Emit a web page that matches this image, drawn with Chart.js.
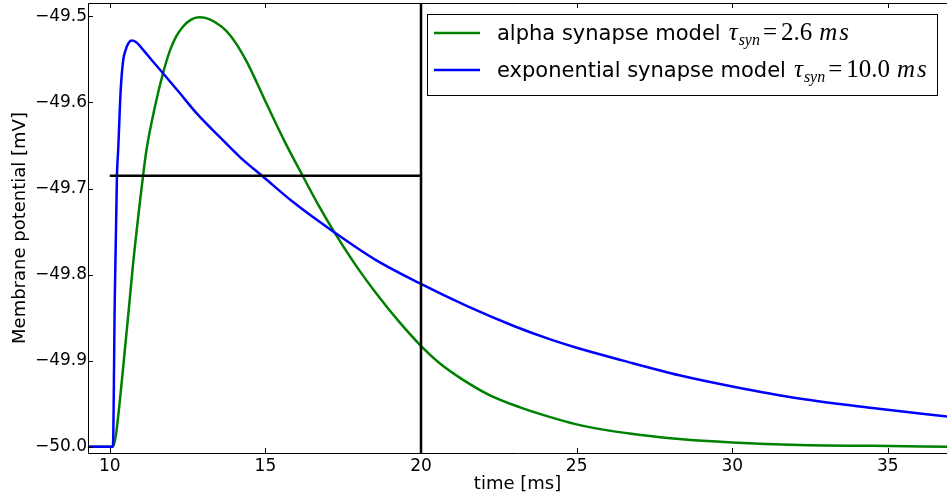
<!DOCTYPE html>
<html lang="en">
  <head>
    <meta charset="UTF-8" />
    <meta name="viewport" content="width=device-width, initial-scale=1.0" />
    <script src="https://cdn.jsdelivr.net/npm/chart.js@4.4.0/dist/chart.umd.min.js"></script>
    <title>Alpha vs exponential synapse</title>
    <style>
      body {
        margin: 0;
        padding: 0;
        background: #fff;
      }

      .container {
        width: 947px;
        height: 501px;
      }
    </style>
  </head>
  <body>
    <div class="container">
      <canvas id="psp" width="947" height="501"></canvas>
    </div>
    <script>
      // values
      const alphaT = [9.3, 10.1, 10.19, 10.38, 10.64, 10.75, 11.07, 11.18, 11.45, 11.71, 11.95, 12.14, 12.35, 12.6, 12.87, 13.1, 13.4, 13.75, 14.05, 14.39, 14.7, 15.03, 15.6, 16.21, 16.7, 17.22, 17.9, 18.67, 19.3, 19.95, 20.6, 21.34, 22.2, 23.16, 24.1, 25.0, 26.0, 27.0, 28.3, 30.0, 32.15, 34.5, 36.9]
      const alphaV = [-50.0, -50.0, -49.988, -49.926, -49.829, -49.787, -49.685, -49.655, -49.605, -49.566, -49.538, -49.523, -49.512, -49.504, -49.501, -49.502, -49.507, -49.517, -49.531, -49.552, -49.575, -49.601, -49.644, -49.686, -49.719, -49.751, -49.789, -49.827, -49.855, -49.881, -49.903, -49.922, -49.94, -49.954, -49.965, -49.974, -49.981, -49.986, -49.991, -49.995, -49.998, -49.999, -50.0]
      const expT = [9.3, 10.1, 10.16, 10.23, 10.27, 10.35, 10.43, 10.51, 10.6, 10.7, 10.85, 11.1, 11.4, 11.71, 12.2, 12.8, 13.53, 14.2, 14.92, 15.9, 17.22, 18.5, 19.95, 21.5, 23.0, 24.13, 25.0, 26.5, 28.3, 30.0, 32.15, 34.5, 36.9]
      const expV = [-50.0, -50.0, -49.829, -49.685, -49.655, -49.586, -49.551, -49.539, -49.531, -49.528, -49.53, -49.54, -49.553, -49.566, -49.587, -49.613, -49.64, -49.664, -49.686, -49.716, -49.751, -49.782, -49.81, -49.837, -49.86, -49.875, -49.885, -49.9, -49.917, -49.93, -49.944, -49.955, -49.965]
      const barT = [10, 20]
      const barV = -49.685
      const cursorT = 20

      const xLimits = [9.3, 36.9]
      const yLimits = [-50.0073, -49.4844]
      const xTicks = [10, 15, 20, 25, 30, 35]
      const yTicks = [-49.5, -49.6, -49.7, -49.8, -49.9, -50.0]

      const seriesNames = ['alpha synapse model', 'exponential synapse model']
      const tauValues = ['2.6', '10.0']
      const seriesColors = ['#008000', '#0000ff']

      const toPoints = (ts, vs) => ts.map((t, i) => ({ x: t, y: vs[i] }))

      const frameAndTicks = {
        id: 'frameAndTicks',
        afterDatasetsDraw(chart) {
          const { ctx, chartArea: a, scales } = chart
          ctx.save()
          ctx.strokeStyle = '#000'
          ctx.lineWidth = 1
          ctx.beginPath()
          ctx.moveTo(chart.width + 2, a.top + 0.5)
          ctx.lineTo(a.left + 0.5, a.top + 0.5)
          ctx.lineTo(a.left + 0.5, a.bottom + 0.5)
          ctx.lineTo(chart.width + 2, a.bottom + 0.5)
          xTicks.forEach((v) => {
            const px = Math.round(scales.x.getPixelForValue(v)) + 0.5
            ctx.moveTo(px, a.bottom)
            ctx.lineTo(px, a.bottom - 5)
            ctx.moveTo(px, a.top)
            ctx.lineTo(px, a.top + 5)
          })
          yTicks.forEach((v) => {
            const py = Math.round(scales.y.getPixelForValue(v)) + 0.5
            ctx.moveTo(a.left, py)
            ctx.lineTo(a.left + 5, py)
          })
          ctx.stroke()
          ctx.restore()
        },
      }

      const mathLegend = {
        id: 'mathLegend',
        afterDraw(chart) {
          const { ctx } = chart
          ctx.save()
          ctx.fillStyle = '#fff'
          ctx.strokeStyle = '#000'
          ctx.lineWidth = 1
          ctx.fillRect(427.5, 14.5, 510, 81)
          ctx.strokeRect(427.5, 14.5, 510, 81)
          ctx.textBaseline = 'alphabetic'
          seriesNames.forEach((name, i) => {
            const mid = 33 + i * 37
            const base = 40 + i * 37
            ctx.strokeStyle = seriesColors[i]
            ctx.lineWidth = 2.5
            ctx.beginPath()
            ctx.moveTo(434, mid)
            ctx.lineTo(480, mid)
            ctx.stroke()

            ctx.fillStyle = '#000'
            let x = 497
            const put = (txt, font, dy, gap, spacing) => {
              ctx.font = font
              ctx.letterSpacing = spacing || '0px'
              ctx.fillText(txt, x, base + dy)
              x += ctx.measureText(txt).width + gap
            }
            put(name, '21px "DejaVu Sans"', 0, 8)
            put('\u03c4', 'italic 25px "Liberation Serif"', 0, 1)
            put('syn', 'italic 16px "Liberation Serif"', 5, 3)
            put('=', '25px "Liberation Serif"', 0, 4)
            put(tauValues[i], '25px "Liberation Serif"', 0, 7)
            put('ms', 'italic 25px "Liberation Serif"', 0, 0, '2px')
          })
          ctx.restore()
        },
      }

      const tickFont = { family: 'DejaVu Sans', size: 17 }
      const titleFont = { family: 'DejaVu Sans', size: 18 }

      const chart = new Chart(document.getElementById('psp').getContext('2d'), {
        type: 'line',
        data: {
          datasets: [
            {
              data: toPoints(barT, barT.map(() => barV)),
              borderColor: '#000',
              borderWidth: 2.5,
              order: 0,
            },
            {
              data: [
                { x: cursorT, y: yLimits[0] },
                { x: cursorT, y: yLimits[1] },
              ],
              borderColor: '#000',
              borderWidth: 2.5,
              order: 0,
            },
            {
              data: toPoints(expT, expV),
              borderColor: seriesColors[1],
              borderWidth: 2.5,
              cubicInterpolationMode: 'monotone',
              order: 1,
            },
            {
              data: toPoints(alphaT, alphaV),
              borderColor: seriesColors[0],
              borderWidth: 2.5,
              cubicInterpolationMode: 'monotone',
              order: 2,
            },
          ],
        },
        options: {
          responsive: false,
          animation: false,
          events: [],
          elements: { point: { radius: 0 } },
          layout: { padding: { top: 3, right: 0, bottom: 0, left: 0 } },
          plugins: {
            legend: { display: false },
            tooltip: { enabled: false },
          },
          scales: {
            x: {
              type: 'linear',
              min: xLimits[0],
              max: xLimits[1],
              grid: { display: false, drawTicks: false },
              border: { display: false },
              afterBuildTicks: (s) => {
                s.ticks = xTicks.map((v) => ({ value: v }))
              },
              afterFit: (s) => {
                s.height = 48
                s.paddingLeft = 0
                s.paddingRight = 0
              },
              ticks: {
                color: '#000',
                font: tickFont,
                padding: 3,
                maxRotation: 0,
                autoSkip: false,
                callback: (v) => String(v),
              },
              title: {
                display: true,
                text: 'time [ms]',
                color: '#000',
                font: titleFont,
                padding: { top: 0, bottom: 6 },
              },
            },
            y: {
              type: 'linear',
              min: yLimits[0],
              max: yLimits[1],
              grid: { display: false, drawTicks: false },
              border: { display: false },
              afterBuildTicks: (s) => {
                s.ticks = yTicks.map((v) => ({ value: v }))
              },
              afterFit: (s) => {
                s.width = 88
                s.paddingTop = 0
                s.paddingBottom = 0
              },
              ticks: {
                color: '#000',
                font: tickFont,
                padding: 1,
                autoSkip: false,
                callback: (v) => v.toFixed(1).replace('-', '\u2212'),
              },
              title: {
                display: true,
                text: 'Membrane potential [mV]',
                color: '#000',
                font: titleFont,
                padding: { top: 10, bottom: 0 },
              },
            },
          },
        },
        plugins: [frameAndTicks, mathLegend],
      })
    </script>
  </body>
</html>
